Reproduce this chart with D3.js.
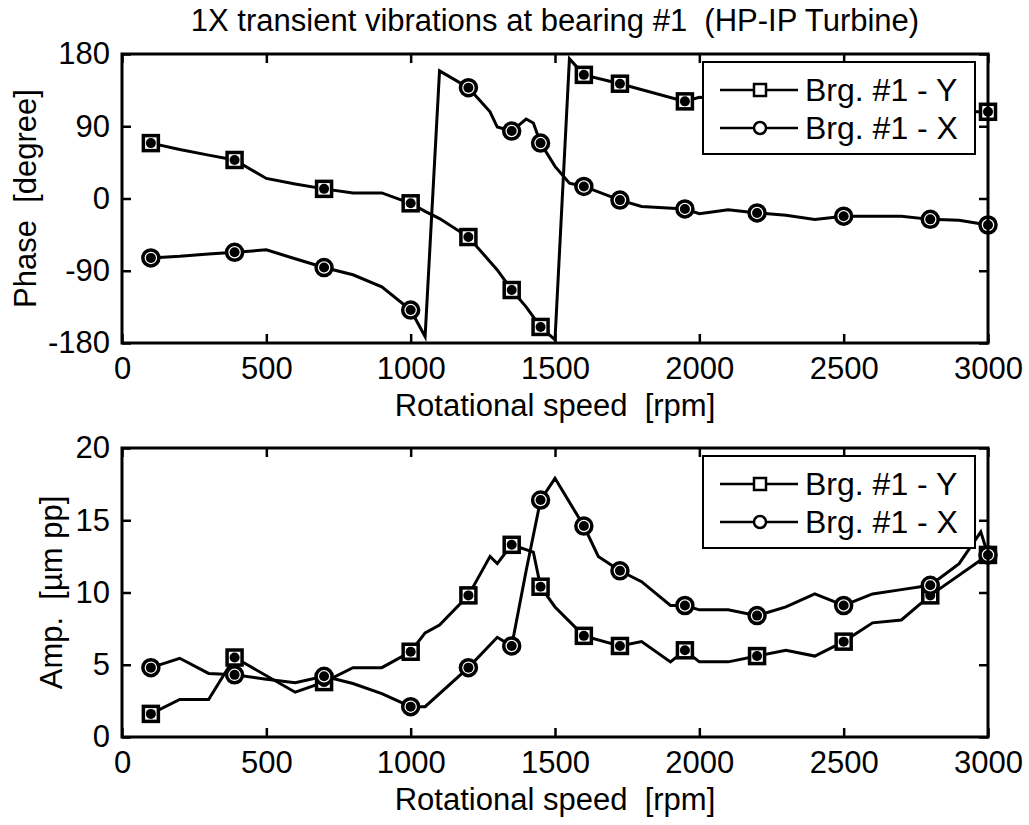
<!DOCTYPE html>
<html>
<head>
<meta charset="utf-8">
<script src="https://cdn.jsdelivr.net/npm/d3@7"></script>
<style>
  body { margin: 0; background: #fff; }
  svg text { font-family: "Liberation Sans", Arial, sans-serif; fill: #000; }
</style>
</head>
<body>
<div id="chart"></div>
<script>
// Rotational speed where the markers sit (same for every curve)
const markerRpm = [100, 390, 700, 1000, 1200, 1350, 1450, 1600, 1725, 1950, 2200, 2500, 2800, 3000];

// Phase, Brg. #1 - Y (squares)
const phaseYRpm = [100, 200, 300, 390, 500, 600, 700, 800, 900, 1000, 1050, 1100, 1200, 1300, 1350, 1400, 1450, 1500, 1550, 1600, 1725, 1950, 2000, 2200, 2500, 2800, 2900, 3000];
const phaseY    = [69, 61, 54, 48, 25, 18, 12, 7, 7, -6, -16, -25, -48, -89, -114, -135, -160, -176, 174, 154, 143, 121, 126, 120, 115, 110, 108, 108];

// Phase, Brg. #1 - X (circles)
const phaseXRpm = [100, 200, 300, 390, 500, 600, 700, 800, 900, 1000, 1050, 1100, 1200, 1275, 1300, 1350, 1400, 1425, 1450, 1500, 1550, 1600, 1725, 1800, 1950, 2000, 2100, 2200, 2300, 2400, 2500, 2600, 2700, 2800, 2900, 3000];
const phaseX    = [-74, -72, -69, -67, -64, -75, -86, -95, -110, -139, -172, 159, 138, 108, 89, 84, 99, 94, 69, 40, 19, 15, -2, -10, -13, -19, -14, -18, -21, -26, -22, -22, -22, -26, -27, -33];

// Amplitude, Brg. #1 - Y (squares)
const ampYRpm = [100, 200, 300, 390, 600, 700, 800, 900, 1000, 1050, 1100, 1200, 1275, 1300, 1350, 1425, 1450, 1500, 1600, 1725, 1800, 1900, 1950, 2000, 2100, 2200, 2300, 2400, 2500, 2600, 2700, 2800, 3000];
const ampY    = [1.6, 2.6, 2.6, 5.5, 3.1, 3.8, 4.8, 4.8, 5.9, 7.2, 7.75, 9.8, 12.5, 12.0, 13.3, 12.8, 10.4, 9.0, 7.0, 6.3, 6.6, 5.2, 6.0, 5.2, 5.2, 5.6, 6.0, 5.6, 6.6, 7.9, 8.1, 9.8, 12.6];

// Amplitude, Brg. #1 - X (circles)
const ampXRpm = [100, 200, 300, 390, 500, 600, 700, 800, 900, 1000, 1050, 1200, 1300, 1350, 1400, 1450, 1500, 1600, 1650, 1725, 1800, 1900, 1950, 2000, 2100, 2200, 2300, 2400, 2500, 2600, 2700, 2800, 2900, 2975, 3000];
const ampX    = [4.8, 5.45, 4.4, 4.3, 4.0, 3.75, 4.2, 3.7, 3.0, 2.1, 2.1, 4.8, 6.9, 6.3, 11.5, 16.4, 17.9, 14.6, 12.5, 11.5, 10.75, 9.1, 9.1, 8.8, 8.8, 8.4, 9.0, 9.9, 9.1, 9.9, 10.2, 10.5, 12.0, 14.2, 12.6];

// Tick labels
const xTicks = [0, 500, 1000, 1500, 2000, 2500, 3000];
const phaseTicks = [-180, -90, 0, 90, 180];
const ampTicks = [0, 5, 10, 15, 20];
const legendLabels = ["Brg. #1 - Y", "Brg. #1 - X"];

const width = 1029, height = 825;
const left = 122, right = 988;
const fontSize = 31;

const svg = d3.select("#chart").append("svg")
    .attr("width", width)
    .attr("height", height);

svg.append("rect").attr("width", width).attr("height", height).attr("fill", "#fff");

const x = d3.scaleLinear().domain([0, 3000]).range([left, right]);

const zip = (rpm, vals) => rpm.map((r, i) => ({ rpm: r, v: vals[i] }));

// plain hyphen for negatives, like the original figure
const fmt = d => String(d);

const panels = [
    {
        top: 54, bottom: 343, domain: [-180, 180], ticks: phaseTicks,
        ylabel: "Phase  [degree]", ylabelX: 36,
        series: [zip(phaseYRpm, phaseY), zip(phaseXRpm, phaseX)]
    },
    {
        top: 448, bottom: 737, domain: [0, 20], ticks: ampTicks,
        ylabel: "Amp.  [\u00b5m pp]", ylabelX: 62,
        series: [zip(ampYRpm, ampY), zip(ampXRpm, ampX)]
    }
];

// Marker shapes: 0 = square, 1 = circle
const drawMarker = (g, shape, cx, cy, size, sw, dot) => {
    if (shape === 0) {
        g.append("rect")
            .attr("x", cx - size / 2).attr("y", cy - size / 2)
            .attr("width", size).attr("height", size)
            .attr("fill", "#fff").attr("stroke", "#000").attr("stroke-width", sw);
    } else {
        g.append("circle")
            .attr("cx", cx).attr("cy", cy).attr("r", size / 2)
            .attr("fill", "#fff").attr("stroke", "#000").attr("stroke-width", sw);
    }
    if (dot) {
        g.append("circle").attr("cx", cx).attr("cy", cy).attr("r", 5).attr("fill", "#000");
    }
};

panels.forEach(p => {
    const y = d3.scaleLinear().domain(p.domain).range([p.bottom, p.top]);
    const g = svg.append("g");

    // Curves
    const line = d3.line().x(d => x(d.rpm)).y(d => y(d.v));
    p.series.forEach((data, si) => {
        g.append("path")
            .datum(data)
            .attr("d", line)
            .attr("fill", "none")
            .attr("stroke", "#000")
            .attr("stroke-width", 3)
            .attr("stroke-linejoin", "miter");

        data.filter(d => markerRpm.includes(d.rpm)).forEach(d => {
            drawMarker(g, si, x(d.rpm), y(d.v), si === 0 ? 15 : 16, 3.5, true);
        });
    });

    // Axes, ticks pointing inward on all four sides (matlab style)
    const bottomAxis = g.append("g")
        .attr("transform", `translate(0,${p.bottom})`)
        .call(d3.axisBottom(x).tickValues(xTicks).tickSize(-9).tickPadding(14).tickFormat(fmt));
    const topAxis = g.append("g")
        .attr("transform", `translate(0,${p.top})`)
        .call(d3.axisTop(x).tickValues(xTicks).tickSize(-9).tickFormat(""));
    const leftAxis = g.append("g")
        .attr("transform", `translate(${left},0)`)
        .call(d3.axisLeft(y).tickValues(p.ticks).tickSize(-9).tickPadding(12).tickFormat(fmt));
    const rightAxis = g.append("g")
        .attr("transform", `translate(${right},0)`)
        .call(d3.axisRight(y).tickValues(p.ticks).tickSize(-9).tickFormat(""));

    [bottomAxis, topAxis, leftAxis, rightAxis].forEach(a => {
        a.select(".domain").remove();
        a.selectAll("line").attr("stroke", "#000").attr("stroke-width", 2.5);
        a.selectAll("text")
            .style("font-size", fontSize + "px")
            .style("font-family", "'Liberation Sans', Arial, sans-serif")
            .attr("fill", "#000");
    });

    g.append("rect")
        .attr("x", left).attr("y", p.top)
        .attr("width", right - left).attr("height", p.bottom - p.top)
        .attr("fill", "none").attr("stroke", "#000").attr("stroke-width", 3);

    // Axis labels
    g.append("text")
        .attr("x", (left + right) / 2)
        .attr("y", p.bottom + 73)
        .attr("text-anchor", "middle")
        .style("font-size", fontSize + "px")
        .style("white-space", "pre")
        .text("Rotational speed  [rpm]");

    g.append("text")
        .attr("transform", `translate(${p.ylabelX},${(p.top + p.bottom) / 2}) rotate(-90)`)
        .attr("text-anchor", "middle")
        .style("font-size", fontSize + "px")
        .style("white-space", "pre")
        .text(p.ylabel);

    // Legend
    const lg = g.append("g").attr("transform", `translate(703,${p.top + 8})`);
    lg.append("rect")
        .attr("width", 272).attr("height", 92)
        .attr("fill", "#fff").attr("stroke", "#000").attr("stroke-width", 2);
    legendLabels.forEach((lab, i) => {
        const ly = 28 + i * 38;
        lg.append("line")
            .attr("x1", 17).attr("x2", 95).attr("y1", ly).attr("y2", ly)
            .attr("stroke", "#000").attr("stroke-width", 2.5);
        drawMarker(lg, i, 57, ly, 12, 2.5, false);
        lg.append("text")
            .attr("x", 102).attr("y", ly + 11)
            .style("font-size", "32px")
            .text(lab);
    });
});

// Title
svg.append("text")
    .attr("x", (left + right) / 2)
    .attr("y", 31)
    .attr("text-anchor", "middle")
    .style("font-size", fontSize + "px")
    .style("white-space", "pre")
    .text("1X transient vibrations at bearing #1  (HP-IP Turbine)");
</script>
</body>
</html>
